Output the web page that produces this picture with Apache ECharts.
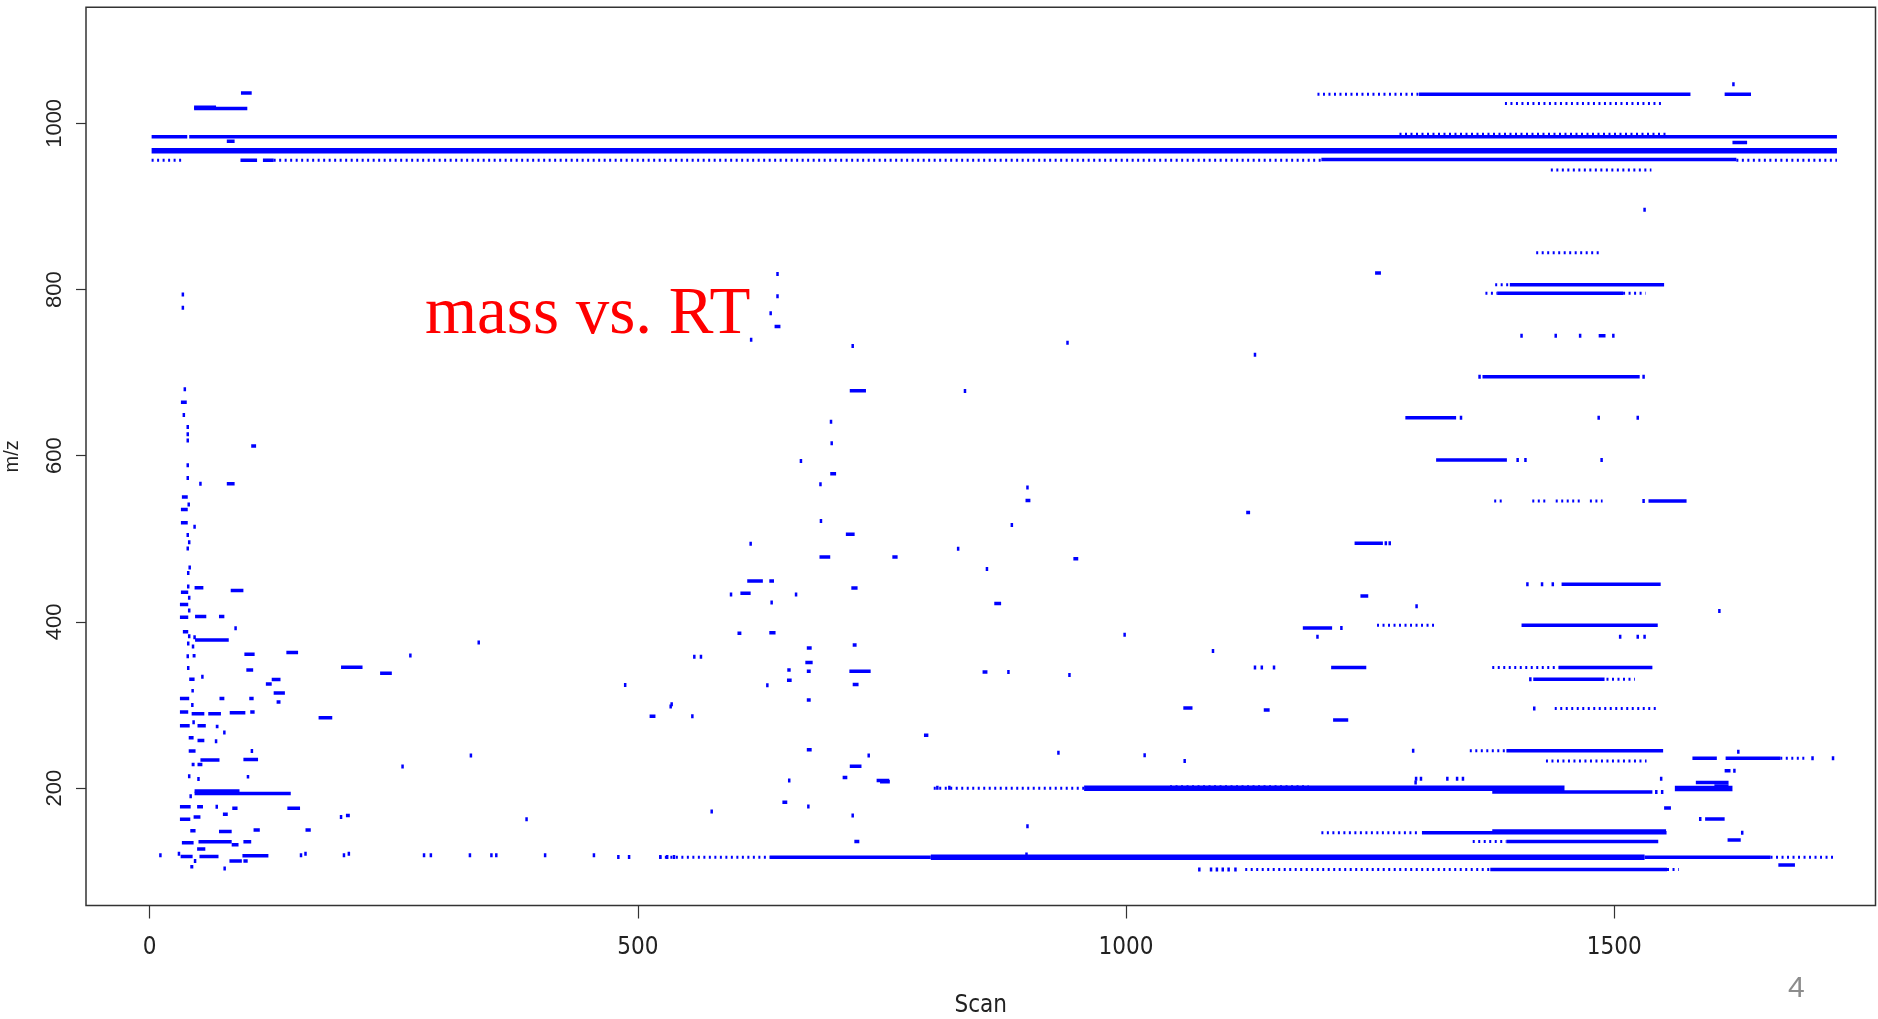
<!DOCTYPE html>
<html>
<head>
<meta charset="utf-8">
<script src="https://cdn.jsdelivr.net/npm/echarts@6/dist/echarts.min.js"></script>
<style>
html,body{margin:0;padding:0;background:#fff;}
#chart{width:1878px;height:1019px;}
</style>
</head>
<body>
<div id="chart"></div>
<script>
// ---- tick labels ----
const xTicks = [0, 500, 1000, 1500];
const yTicks = [200, 400, 600, 800, 1000];

// ---- data: [scanStart, scanEnd, m/z] ----
const thickSegs = [
  [2, 1728, 967], [800, 1531, 116.6], [957, 1449, 199.7], [1562, 1621, 199.5]
];

const solidSegs = [
  [2, 38.5, 984], [40.5, 1728, 984], [79, 87, 978.5], [45.5, 100, 1018], [45.5, 68, 1019.5],
  [93.5, 104.5, 1036.6], [1300, 1578, 1035], [1613, 1640, 1035], [1621, 1636, 977],
  [93, 110, 955.6], [116, 127, 955.6], [1200, 1625, 956.5],
  [1393, 1551, 805.9], [1380, 1509, 795.5], [1484, 1491, 744.5], [1365, 1526, 695],
  [1286, 1338, 645.8], [1317.5, 1390, 594.8], [1535, 1574, 545.5], [1255, 1261, 820],
  [1234, 1263, 494.5], [1446, 1547.5, 445.2], [1240, 1248, 431.2], [1405, 1544.5, 395.9],
  [1181, 1211, 392.6], [1210, 1246, 345], [1443, 1539, 345], [1417, 1490, 330.9],
  [1141, 1147, 294], [1212, 1227.5, 282], [1389.5, 1550, 245], [1580, 1605, 235.8],
  [1614, 1670, 235.8], [1613, 1619, 220.9], [1583.5, 1617, 206.5], [1602.5, 1617, 202.5],
  [1375, 1539, 195.3], [1551, 1558, 176], [1593, 1613, 162.8], [1303, 1553.5, 146.3],
  [1375, 1553, 148.3], [1616, 1629.5, 137.5], [1389.5, 1545, 135.5], [635, 800, 116.6],
  [1531, 1660, 116.6], [1668, 1685, 107.4], [1373, 1554, 102], [1123, 1127, 531.5],
  [1058.6, 1068, 296.4], [748, 758, 207.6],
  [640, 646, 755.5], [717, 733.6, 678.3], [697, 703, 578.2], [713, 722, 505.5],
  [686, 697, 478.1], [760.6, 766, 478.1], [612, 628, 449.2], [634.6, 639.4, 449.2],
  [605, 615.5, 434.3], [718.6, 725, 440.7], [602, 606, 386.4], [634.6, 641, 386.9],
  [673, 678, 368.5], [720, 724, 372], [671.5, 679, 351.1], [653, 656.5, 342.1],
  [673, 677, 340.6], [716.6, 738.4, 340.6], [652.7, 657.5, 329.8], [720, 726, 324.7],
  [673, 677, 305.8], [512, 518, 286.4], [793, 797.5, 263.4], [673, 678, 246],
  [717, 729, 226.1], [709.7, 714.5, 212.6], [744.5, 757.5, 209.2], [648, 653, 182.8],
  [721.7, 726.8, 135.5], [865, 872, 422], [897, 902, 546], [853, 858, 339.5], [946, 951, 476],
  [140, 152, 363], [196, 218, 345.5], [236, 248, 338], [173, 187, 284.5],
  [32, 38, 664.3], [104, 109, 611.7], [79, 87, 566.2], [33, 39, 550.4], [32, 39, 535.1],
  [32, 39, 519.4], [46, 55, 441.1], [83, 96, 437.8], [32, 39.5, 435.7], [31, 39.5, 420.8],
  [31, 39.5, 405.4], [46.5, 58, 406.3], [71, 76.5, 406.3], [34, 39.5, 388.1], [46.5, 81, 378.1],
  [44, 47, 359.1], [97, 107.5, 361.1], [99, 106, 342.1], [40.5, 46, 330.9], [125, 134, 330.5],
  [119, 125, 325.1], [43, 45, 317.2], [127, 138.5, 314.3], [31, 40.5, 307.7], [71.5, 76.5, 307.7],
  [102, 106.5, 307.7], [130, 134, 303.6], [31, 39.5, 291.6], [43, 56, 289.5], [60, 73, 289.5],
  [82, 98, 290.7], [103, 107.5, 291.6], [31, 41, 275], [49, 57.5, 275], [67.7, 70.5, 274.2],
  [40, 45, 260.5], [49, 56, 257.2], [40, 47, 244.7], [52, 71.5, 233.6], [96, 111, 234.4],
  [43, 46, 228.2], [49, 54, 228.2], [99.4, 102, 213.7], [46, 144.5, 193.4], [46, 92, 196.5],
  [31, 42, 177.6], [48.6, 54.6, 177.6], [84.6, 90, 175.6], [141, 154, 175.6], [75, 80, 168.5],
  [201, 205, 166.9], [31, 41.6, 162.3], [45, 52, 165.2], [41.6, 47, 148.6], [71, 84, 147.8],
  [106.4, 112.8, 149.5], [159.6, 165, 149.5], [33, 45, 134.2], [50, 84, 135.4], [84, 91, 131.7],
  [96, 104, 135.4], [48.6, 57, 126.7], [31.7, 44, 117.6], [51, 70.5, 117.6], [95, 121.6, 118.4],
  [81.7, 94.4, 112.2], [96, 100.4, 112.2], [41.6, 44.7, 105.1]
];

const dottedSegs = [
  [2, 33, 955.6], [127, 1200, 955.6], [1625, 1728, 955.6], [1196, 1300, 1035],
  [1388, 1548, 1024], [1280, 1555, 987], [1435, 1538, 944], [1420, 1486, 844.4],
  [1378, 1393, 805.9], [1368, 1380, 795.5], [1509, 1532, 795.5], [1377, 1385, 545.5],
  [1416, 1432, 545.5], [1440, 1468, 545.5], [1475, 1488, 545.5], [1257, 1316, 395.9],
  [1375, 1443, 345], [1492, 1521, 330.9], [1439, 1543, 295.6], [1352, 1389.5, 245],
  [1670, 1695, 235.8], [1430, 1533, 232.6], [803, 957, 199.7], [1045, 1187, 201.6],
  [1200, 1300, 146.3], [1355, 1389.5, 135.5], [522, 635, 116.6], [1660, 1726, 116.6],
  [1122, 1373, 102], [1554, 1566, 102]
];

const points = [
  [34, 794], [34, 778], [1622, 1047], [1531, 896],
  [1405, 744.5], [1440, 744.5], [1465, 744.5], [1499, 744.5], [1362, 695], [1530, 695],
  [1343, 645.8], [1484, 645.8], [1524, 645.8], [1401, 594.8], [1409, 594.8], [1487, 594.8],
  [1530, 545.5], [1132, 721.6], [940, 736], [1266, 494.5], [1270, 494.5],
  [1411, 445.2], [1426, 445.2], [1437, 445.2], [1297.5, 418.7], [1607.6, 413.1], [1220.5, 392.6],
  [1196, 382.2], [1506, 382.2], [1524, 382.2], [1531, 382.2], [1132, 345], [1139, 345], [1151.5, 345],
  [1414, 330.9], [1418, 295.6], [1294, 245], [1703, 235.8], [1724, 235.8], [1627, 243.8], [1623, 220.9],
  [1297, 211.3], [1302, 211.3], [1329, 211.3], [1339, 211.3], [1345, 211.3], [1548, 211.3],
  [1296.5, 206.5], [1543, 195.3], [1549, 195.3], [1588, 162.8], [1631, 146.3],
  [1075, 102], [1087, 102], [1093, 102], [1099, 102], [1105, 102], [1112, 102],
  [643, 818.7], [643, 791.8], [636, 771.4], [616, 739.5], [720, 732], [697.8, 640.9], [698.5, 615],
  [667, 593.6], [687, 565.7], [687.5, 521.4], [615.5, 494], [595.4, 432.8], [662, 432.8], [637, 423.3],
  [557.8, 358.1], [564.6, 358.1], [632.6, 323.7], [534.6, 300.8], [555.8, 286.4], [736.4, 239],
  [655, 209.2], [674.6, 177.8], [575.6, 171.8], [720, 166.8],
  [835, 678], [828, 488], [857.5, 463.7], [883, 516.7], [899, 561.6], [879.5, 339.5], [899, 154],
  [942, 336], [998.5, 384.5], [1089, 365], [806.7, 200.2], [819, 200.2], [898, 120],
  [930.7, 242.6], [1019, 239.3], [1060, 232.5],
  [267, 359.6], [337, 375.3], [259, 226], [329, 239], [196, 165], [386, 162.5], [487, 324], [533.6, 298],
  [11, 119], [155, 119], [199, 119], [281, 119], [288, 119], [328, 119], [350, 119], [355, 119],
  [405, 119], [455, 119], [480, 117], [491, 117], [523, 117], [530, 117], [537, 117],
  [36, 680], [35, 649], [39, 634.5], [39, 625.8], [39, 618.3], [39, 588.5], [39, 573.2], [52, 566.2],
  [40, 541.3], [46, 514.4], [39, 504.4], [40.5, 495.7], [39, 488.3], [41, 465.5], [39.5, 458.9],
  [39.5, 442.7], [40.5, 429.1], [40.5, 413.7], [88, 392.2], [40.5, 382.7], [46, 381.4], [39.5, 374],
  [44.4, 370.2], [39, 358.6], [39.5, 344.6], [54, 333.8], [43.7, 299.8], [45, 279.1], [76.5, 266.7],
  [68, 256.3], [104.7, 244.7], [40.5, 214.1], [50, 210.8], [42, 190], [68.7, 177.6], [30, 120.9],
  [159.6, 120.9], [204, 120.9], [46.5, 112.2], [76.8, 103.1]
];

// ---- rendering ----
const BLUE = '#0000ff';
function segRender(h) {
  return function (params, api) {
    const a = api.coord([api.value(0), api.value(2)]);
    const b = api.coord([api.value(1), api.value(2)]);
    let x = a[0], w = b[0] - a[0];
    if (w < 2.5) { x -= (2.5 - w) / 2; w = 2.5; }
    return { type: 'rect', shape: { x: x, y: a[1] - h / 2, width: w, height: h }, style: { fill: BLUE } };
  };
}
function dotRender(params, api) {
  const a = api.coord([api.value(0), api.value(2)]);
  const b = api.coord([api.value(1), api.value(2)]);
  return { type: 'line', shape: { x1: a[0], y1: a[1], x2: b[0], y2: b[1] },
    style: { stroke: BLUE, lineWidth: 3, lineDash: [2, 3.5] } };
}
function pointRender(params, api) {
  const a = api.coord([api.value(0), api.value(1)]);
  return { type: 'rect', shape: { x: a[0] - 1.25, y: a[1] - 2, width: 2.5, height: 4 }, style: { fill: BLUE } };
}
const plain = function (v) { return String(v); };

const chart = echarts.init(document.getElementById('chart'), null, { renderer: 'canvas' });
const labelFont = '"Liberation Sans", Arial, sans-serif';
const narrowFont = '"Liberation Sans Narrow", "DejaVu Sans Condensed", "Liberation Sans", sans-serif';

chart.setOption({
  animation: false,
  backgroundColor: '#ffffff',
  title: {
    text: 'mass vs. RT', left: 425, top: 282, padding: 0,
    textStyle: { fontFamily: '"Liberation Serif", "Times New Roman", serif', fontSize: 67, fontWeight: 'normal', color: '#ff0000' }
  },
  graphic: [{
    type: 'text', left: 1788, top: 974, silent: true,
    style: { text: '4', fontFamily: labelFont, fontSize: 30, fill: '#8c8c8c' }
  }],
  grid: { left: 86, right: 2.5, top: 7.3, bottom: 113.5, show: true, borderColor: '#333', borderWidth: 1.5,
          containLabel: false, outerBoundsMode: 'none' },
  xAxis: {
    type: 'value', min: -65.2, max: 1767.5,
    axisLine: { show: false, onZero: false }, splitLine: { show: false },
    axisTick: { show: true, customValues: xTicks, length: 13, lineStyle: { color: '#333', width: 1.2 } },
    axisLabel: { customValues: xTicks, formatter: plain, margin: 30, fontFamily: narrowFont, fontSize: 24, color: '#222' },
    name: 'Scan', nameLocation: 'middle', nameGap: 88,
    nameTextStyle: { fontFamily: narrowFont, fontSize: 24, color: '#222' }
  },
  yAxis: {
    type: 'value', min: 58.6, max: 1139.7,
    axisLine: { show: false, onZero: false }, splitLine: { show: false },
    axisTick: { show: true, customValues: yTicks, length: 10, lineStyle: { color: '#333', width: 1.2 } },
    axisLabel: { customValues: yTicks, formatter: plain, rotate: 90, margin: 20, fontFamily: labelFont, fontSize: 22, color: '#222' },
    name: 'm/z', nameLocation: 'middle', nameRotate: 90, nameGap: 64,
    nameTextStyle: { fontFamily: labelFont, fontSize: 20, color: '#222' }
  },
  series: [
    { type: 'custom', name: 'dotted', renderItem: dotRender, data: dottedSegs, encode: { x: [0, 1], y: 2 }, silent: true, clip: true },
    { type: 'custom', name: 'solid', renderItem: segRender(3.5), data: solidSegs, encode: { x: [0, 1], y: 2 }, silent: true, clip: true },
    { type: 'custom', name: 'thick', renderItem: segRender(5.5), data: thickSegs, encode: { x: [0, 1], y: 2 }, silent: true, clip: true },
    { type: 'custom', name: 'points', renderItem: pointRender, data: points, encode: { x: 0, y: 1 }, silent: true, clip: true }
  ]
});
</script>
</body>
</html>
